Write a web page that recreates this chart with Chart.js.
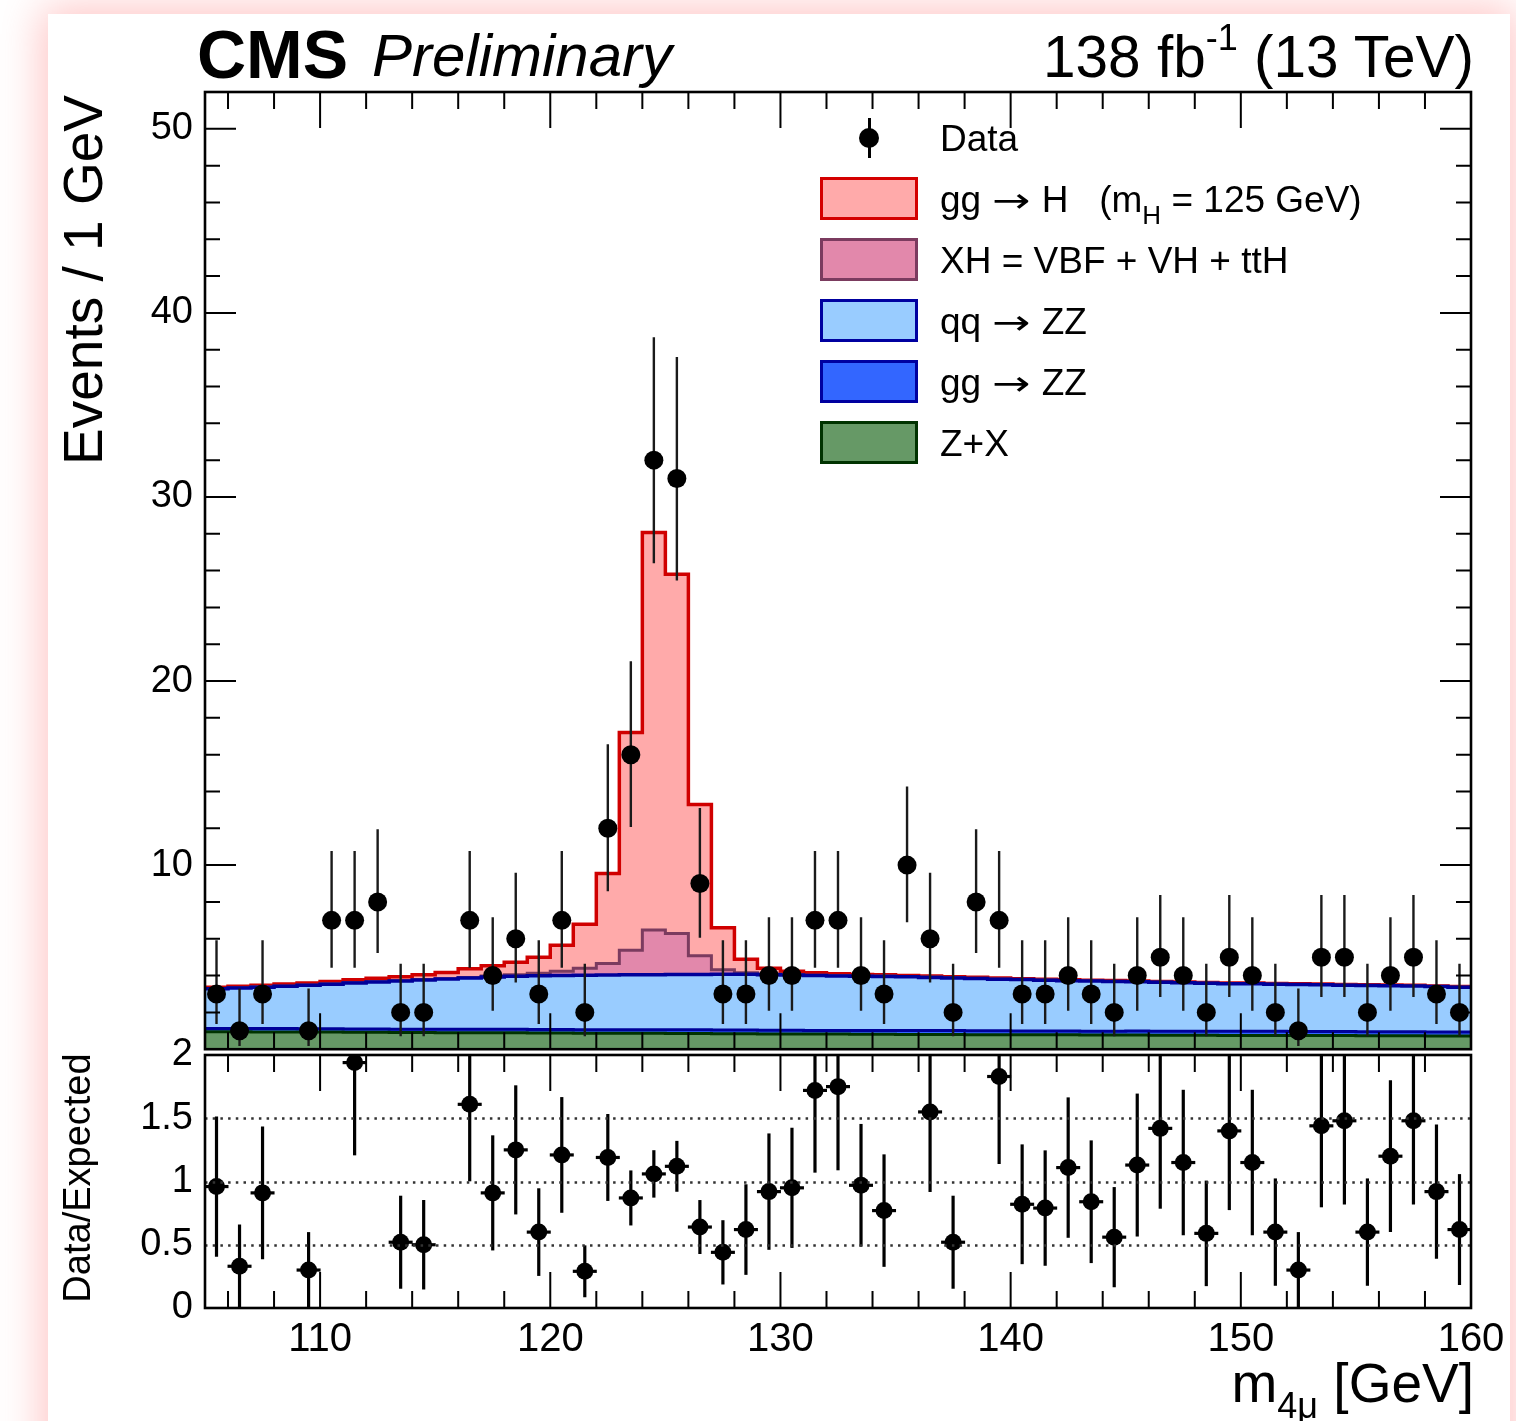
<!DOCTYPE html>
<html>
<head>
<meta charset="utf-8">
<script src="https://cdn.jsdelivr.net/npm/chart.js@4.4.1/dist/chart.umd.min.js"></script>
<style>
  html, body { margin: 0; padding: 0; background: #fff; }
  body { width: 1516px; height: 1421px; position: relative; overflow: hidden;
         font-family: 'Liberation Sans', Arial, Helvetica, sans-serif; color: #000; }
  #card { position: absolute; left: 48px; top: 14px; width: 1462px; height: 1500px; background: #fff;
          box-shadow: 0 0 40px 6px rgba(255, 140, 140, 0.5); }
  canvas { position: absolute; left: 0; }
  #main { top: 0; }
  #ratio { top: 1000px; }
  .t { position: absolute; white-space: pre; line-height: 1; }
  .box { position: absolute; left: 820px; width: 98px; height: 43px; box-sizing: border-box; border: 3px solid; }
  .leg { position: absolute; left: 940px; font-size: 37px; white-space: pre; line-height: 1; }
  .arr { display: inline-block; font-family: 'DejaVu Sans', sans-serif; font-size: 34px; transform: scaleX(1.35); margin: 0 16px; }
</style>
</head>
<body>
<div id="card"></div>
<canvas id="main" width="1516" height="1084"></canvas>
<canvas id="ratio" width="1516" height="421"></canvas>

<div class="t" style="left:197px; top:20px; font-size:68px; font-weight:bold;">CMS</div>
<div class="t" style="left:372px; top:26px; font-size:60px; font-style:italic;">Preliminary</div>
<div class="t" style="right:42px; top:28px; font-size:58.5px;">138 fb<span style="font-size:36px; position:relative; top:-27px;">-1</span> (13 TeV)</div>

<div class="t" style="left:56px; top:495px; width:400px; text-align:right; font-size:55px; transform-origin:0 0; transform:rotate(-90deg);">Events / 1 GeV</div>
<div class="t" style="left:58px; top:1378px; width:400px; text-align:center; font-size:38px; transform-origin:0 0; transform:rotate(-90deg);">Data/Expected</div>
<div class="t" style="right:42px; top:1356px; font-size:55px;">m<span style="font-size:36px; position:relative; top:16px;">4μ</span> [GeV]</div>

<!-- legend -->
<div style="position:absolute; left:868px; top:118px; width:3px; height:40px; background:#000;"></div>
<div style="position:absolute; left:859px; top:128px; width:20px; height:20px; border-radius:50%; background:#000;"></div>
<div class="leg" style="top:120px;">Data</div>
<div class="box" style="top:177px; background:#ffaaaa; border-color:#d40000;"></div>
<div class="leg" style="top:181px;">gg<span class="arr">→</span>H   (m<span style="font-size:26px; position:relative; top:12px;">H</span> = 125 GeV)</div>
<div class="box" style="top:238px; background:#e288ab; border-color:#7b3b5f;"></div>
<div class="leg" style="top:242px;">XH = VBF + VH + ttH</div>
<div class="box" style="top:299px; background:#99ccff; border-color:#0000a0;"></div>
<div class="leg" style="top:303px;">qq<span class="arr">→</span>ZZ</div>
<div class="box" style="top:360px; background:#3366ff; border-color:#0000a0;"></div>
<div class="leg" style="top:364px;">gg<span class="arr">→</span>ZZ</div>
<div class="box" style="top:421px; background:#669966; border-color:#003300;"></div>
<div class="leg" style="top:425px;">Z+X</div>

<script>
// lower edges of the 1 GeV bins
const binLow = [105,106,107,108,109,110,111,112,113,114,115,116,117,118,119,120,121,122,123,124,
                125,126,127,128,129,130,131,132,133,134,135,136,137,138,139,140,141,142,143,144,
                145,146,147,148,149,150,151,152,153,154,155,156,157,158,159];

const dataCounts = [3,1,3,0,1,7,7,8,2,2, 0,7,4,6,3,7,2,12,16,32, 31,9,3,3,4,4,7,7,4,3,
                    10,6,2,8,7,3,3,4,3,2, 4,5,4,2,5,4,2,1,5,5, 2,4,5,3,2];

const zPlusX = [0.95,0.95,0.94,0.94,0.93,0.93,0.92,0.92,0.91,0.91, 0.90,0.90,0.89,0.89,0.88,0.88,0.87,0.87,0.86,0.86,
                0.85,0.85,0.84,0.84,0.83,0.83,0.82,0.82,0.81,0.81, 0.80,0.80,0.80,0.79,0.79,0.78,0.78,0.78,0.77,0.77,
                0.77,0.76,0.76,0.76,0.75,0.75,0.75,0.74,0.74,0.74, 0.73,0.73,0.73,0.72,0.72];

const ggZZ = [0.18,0.18,0.18,0.18,0.18,0.18,0.18,0.18,0.18,0.18, 0.19,0.19,0.19,0.19,0.19,0.19,0.19,0.19,0.19,0.19,
              0.20,0.20,0.20,0.20,0.20,0.20,0.20,0.20,0.20,0.20, 0.21,0.21,0.21,0.21,0.21,0.21,0.21,0.21,0.21,0.21,
              0.22,0.22,0.22,0.22,0.22,0.22,0.22,0.22,0.22,0.22, 0.22,0.22,0.22,0.22,0.22];

const qqZZ = [2.15,2.19,2.25,2.30,2.36,2.42,2.50,2.55,2.61,2.67, 2.72,2.78,2.84,2.88,2.92,2.93,2.96,2.97,2.99,3.00,
              3.01,3.01,3.03,3.03,3.02,3.00,2.98,2.96,2.95,2.94, 2.92,2.89,2.86,2.84,2.80,2.79,2.76,2.73,2.72,2.70,
              2.67,2.66,2.63,2.60,2.59,2.58,2.56,2.55,2.54,2.52, 2.51,2.50,2.48,2.46,2.43];

const xH = [0.02,0.02,0.02,0.02,0.02,0.02,0.02,0.02,0.02,0.02, 0.02,0.03,0.05,0.08,0.14,0.24,0.38,0.63,1.33,2.42,
            2.22,1.02,0.25,0.08,0.04,0.02,0.02,0.02,0.02,0.02, 0.02,0.02,0.02,0.02,0.02,0.01,0.01,0.01,0.01,0.01,
            0.01,0.01,0.01,0.01,0.01,0.01,0.01,0.01,0.01,0.01, 0.01,0.01,0.01,0.01,0.01];

const ggH = [0.07,0.08,0.09,0.10,0.11,0.13,0.15,0.18,0.21,0.27, 0.34,0.47,0.57,0.68,0.87,1.41,2.39,4.89,11.83,21.60,
             19.52,8.22,2.28,0.73,0.31,0.18,0.13,0.10,0.08,0.07, 0.06,0.06,0.05,0.05,0.05,0.04,0.04,0.04,0.04,0.04,
             0.04,0.03,0.03,0.03,0.03,0.03,0.03,0.03,0.03,0.03, 0.03,0.03,0.03,0.03,0.03];

// data / expected, null where the point falls outside the 0-2 window or the bin is empty
const ratioValues = [0.96,0.33,0.91,null,0.30,null,1.94,null,0.52,0.50, null,1.61,0.91,1.25,0.60,1.21,0.29,1.19,0.87,1.06,
                     1.12,0.64,0.44,0.62,0.92,0.95,1.72,1.75,0.97,0.77, null,1.55,0.52,null,1.83,0.82,0.79,1.11,0.84,0.56,
                     1.13,1.42,1.15,0.59,1.40,1.15,0.60,0.30,1.44,1.48, 0.60,1.20,1.48,0.92,0.62];

const mainYTicks = [10, 20, 30, 40, 50];
const ratioYTicks = [0, 0.5, 1, 1.5, 2];
const xTickLabels = [110, 120, 130, 140, 150, 160];
const ratioGuides = [0.5, 1, 1.5];

// 68% Poisson (Garwood) interval for the observed counts
const poissonLow  = {1:0.173, 2:0.708, 3:1.367, 4:2.086, 5:2.840, 6:3.620, 7:4.420, 8:5.232, 9:6.057, 10:6.891, 12:8.579, 16:12.07, 31:25.46, 32:26.40};
const poissonHigh = {1:3.300, 2:4.638, 3:5.918, 4:7.163, 5:8.382, 6:9.584, 7:10.77, 8:11.95, 9:13.11, 10:14.27, 12:16.56, 16:21.07, 31:37.60, 32:38.68};

Chart.defaults.font.family = "'Liberation Sans', Arial, Helvetica, sans-serif";
Chart.defaults.color = '#000';

const X_MIN = 105, X_MAX = 160;

const histPoints = vals => binLow.map((x, i) => ({ x, y: vals[i] }))
  .concat([{ x: X_MAX, y: vals[vals.length - 1] }]);

// error bars under the markers
const errorBars = {
  id: 'errorBars',
  beforeDatasetDraw(chart, args) {
    const ds = chart.data.datasets[args.index];
    if (!ds.errLow) return;
    const { ctx, chartArea: a, scales: { x, y } } = chart;
    ctx.save();
    ctx.beginPath(); ctx.rect(a.left, a.top, a.width, a.height); ctx.clip();
    ctx.strokeStyle = ds.barColor; ctx.lineWidth = ds.barWidth;
    ds.data.forEach((p, j) => {
      const px = x.getPixelForValue(p.x);
      ctx.beginPath();
      ctx.moveTo(px, y.getPixelForValue(ds.errLow[j]));
      ctx.lineTo(px, y.getPixelForValue(ds.errHigh[j]));
      ctx.stroke();
      if (ds.stub) {
        const py = y.getPixelForValue(p.y);
        ctx.beginPath(); ctx.moveTo(px - ds.stub, py); ctx.lineTo(px + ds.stub, py); ctx.stroke();
      }
    });
    ctx.restore();
  }
};

// ROOT style frame with inward ticks on all four sides
const frameTicks = {
  id: 'frameTicks',
  afterDraw(chart, args, o) {
    const { ctx, chartArea: a, scales: { x, y } } = chart;
    ctx.save();
    if (o.guides) {
      ctx.strokeStyle = '#333'; ctx.lineWidth = 2.4; ctx.setLineDash([2.5, 5.2]);
      o.guides.forEach(v => {
        const py = Math.round(y.getPixelForValue(v)) + 0.5;
        ctx.beginPath(); ctx.moveTo(a.left, py); ctx.lineTo(a.right, py); ctx.stroke();
      });
      ctx.setLineDash([]);
    }
    ctx.strokeStyle = '#000'; ctx.lineWidth = 2;
    for (let v = X_MIN + 1; v < X_MAX; v++) {
      if (v % 2) continue;
      const len = v % 10 === 0 ? 36 : 17;
      const px = x.getPixelForValue(v);
      ctx.beginPath();
      ctx.moveTo(px, a.bottom); ctx.lineTo(px, a.bottom - len);
      ctx.moveTo(px, a.top); ctx.lineTo(px, a.top + len);
      ctx.stroke();
    }
    if (o.yMinor) {
      for (let v = o.yMinor; v < y.max; v += o.yMinor) {
        const len = v % 10 === 0 ? 31 : 15;
        const py = y.getPixelForValue(v);
        ctx.beginPath();
        ctx.moveTo(a.left, py); ctx.lineTo(a.left + len, py);
        ctx.moveTo(a.right, py); ctx.lineTo(a.right - len, py);
        ctx.stroke();
      }
    }
    ctx.lineWidth = 2.6;
    ctx.strokeRect(a.left, a.top, a.width, a.height);
    ctx.restore();
  }
};

// ----- main panel -----
const dataPts = [], dataLo = [], dataHi = [];
binLow.forEach((x, i) => {
  const n = dataCounts[i];
  if (n > 0) { dataPts.push({ x: x + 0.5, y: n }); dataLo.push(poissonLow[n]); dataHi.push(poissonHigh[n]); }
});

const histStyle = (label, vals, fill, line, lw, order, fillMode) => ({
  label, data: histPoints(vals), stepped: 'before', stack: 'mc', order,
  backgroundColor: fill, borderColor: line, borderWidth: lw, fill: fillMode,
  pointRadius: 0, borderJoinStyle: 'miter'
});

new Chart(document.getElementById('main'), {
  type: 'line',
  data: {
    datasets: [
      histStyle('Z+X', zPlusX, '#669966', '#003300', 3, 1, 'origin'),
      histStyle('gg → ZZ', ggZZ, '#3366ff', '#000099', 3, 2, '-1'),
      histStyle('qq → ZZ', qqZZ, '#99ccff', '#000099', 3.5, 3, '-1'),
      histStyle('XH = VBF + VH + ttH', xH, '#e288ab', '#7b3b5f', 3, 4, '-1'),
      histStyle('gg → H', ggH, '#ffaaaa', '#d00000', 3.5, 5, '-1'),
      {
        label: 'Data', data: dataPts, stack: 'obs', order: 0, showLine: false,
        pointRadius: 9.5, pointBackgroundColor: '#000', pointBorderWidth: 0,
        errLow: dataLo, errHigh: dataHi, barColor: '#1a1a1a', barWidth: 2.4
      }
    ]
  },
  options: {
    responsive: false, animation: false, devicePixelRatio: 1,
    layout: { padding: { top: 92, right: 45, bottom: 26, left: 0 } },
    plugins: { legend: { display: false }, tooltip: { enabled: false },
               frameTicks: { yMinor: 2 } },
    scales: {
      x: { type: 'linear', min: X_MIN, max: X_MAX, display: false },
      y: { type: 'linear', min: 0, max: 52, stacked: true,
           grid: { display: false, drawTicks: false }, border: { display: false },
           afterBuildTicks: s => { s.ticks = mainYTicks.map(v => ({ value: v })); },
           ticks: { padding: 12, font: { size: 38 }, callback: v => String(v) },
           afterFit: s => { s.width = 205; } }
    }
  },
  plugins: [errorBars, frameTicks]
});

// ----- ratio panel -----
const ratioPts = [], ratioLo = [], ratioHi = [];
binLow.forEach((x, i) => {
  const r = ratioValues[i];
  if (r === null) return;
  const e = r / Math.sqrt(dataCounts[i]);
  ratioPts.push({ x: x + 0.5, y: r }); ratioLo.push(r - e); ratioHi.push(r + e);
});

new Chart(document.getElementById('ratio'), {
  type: 'line',
  data: {
    datasets: [{
      label: 'Data/Expected', data: ratioPts, showLine: false,
      pointRadius: 8.5, pointBackgroundColor: '#000', pointBorderWidth: 0,
      errLow: ratioLo, errHigh: ratioHi, barColor: '#000', barWidth: 3.2, stub: 12
    }]
  },
  options: {
    responsive: false, animation: false, devicePixelRatio: 1,
    layout: { padding: { top: 55, right: 45, bottom: 0, left: 0 } },
    plugins: { legend: { display: false }, tooltip: { enabled: false },
               frameTicks: { guides: ratioGuides } },
    scales: {
      x: { type: 'linear', min: X_MIN, max: X_MAX,
           grid: { display: false, drawTicks: false }, border: { display: false },
           afterBuildTicks: s => { s.ticks = xTickLabels.map(v => ({ value: v })); },
           ticks: { padding: 8, font: { size: 40 }, maxRotation: 0, autoSkip: false, callback: v => String(v) },
           afterFit: s => { s.height = 113; } },
      y: { type: 'linear', min: 0, max: 2,
           grid: { display: false, drawTicks: false }, border: { display: false },
           afterBuildTicks: s => { s.ticks = ratioYTicks.map(v => ({ value: v })); },
           ticks: { padding: 12, font: { size: 38 }, callback: v => String(v) },
           afterFit: s => { s.width = 205; } }
    }
  },
  plugins: [errorBars, frameTicks]
});
</script>
</body>
</html>
